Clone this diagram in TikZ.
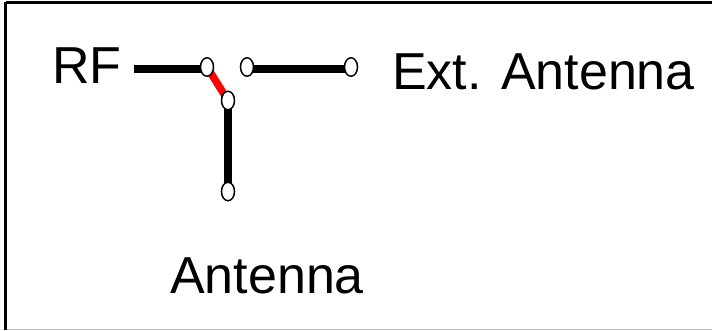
\documentclass[tikz,border=0pt]{standalone}
\usepackage{fontspec}
\setmainfont{Liberation Sans}
\usetikzlibrary{shapes.geometric,backgrounds}
\begin{document}
\begin{tikzpicture}[x=1pt,y=-1pt,
  term/.style={draw=black,fill=white,ellipse,line width=1.5pt,minimum width=13pt,minimum height=18.5pt,inner sep=0pt},
  wire/.style={line width=7.5pt,draw=black},
  label/.style={font=\fontsize{52}{52}\selectfont,inner sep=0pt,anchor=base west}]
\useasboundingbox (0,0) rectangle (712,330);
\draw[line width=3pt,black] (5.5,2) -- (712,2);
\draw[line width=3pt,black] (5.5,2) -- (5.5,330);
\draw[line width=1.5pt,black!25] (7,329.3) -- (712,329.3);
\coordinate (rfstart) at (134,69);
\node[term] (a) at (207,67) {};
\node[term] (b) at (247,67) {};
\node[term] (c) at (351,67) {};
\node[term] (d) at (228,100.5) {};
\node[term] (e) at (228,191.5) {};
\begin{scope}[on background layer]
\draw[wire] (rfstart) -- (a.center |- rfstart);
\draw[wire] (b.center |- rfstart) -- (c.center |- rfstart);
\draw[wire] (d.center) -- (e.center);
\draw[wire,draw=red] (a.center) -- (d.center);
\end{scope}
\node[label] (rf) at (52,83.5) {RF};
\node[label] (ext) at (392,89) {Ext. Antenna};
\node[label] (ant) at (170,293) {Antenna};
\end{tikzpicture}
\end{document}
